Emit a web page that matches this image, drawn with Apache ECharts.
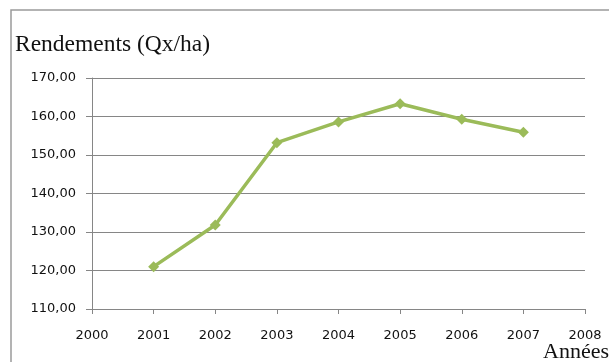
<!DOCTYPE html>
<html>
<head>
<meta charset="utf-8">
<script src="https://cdn.jsdelivr.net/npm/echarts@6/dist/echarts.min.js"></script>
<style>html,body{margin:0;padding:0;background:#fff;}#c{width:609px;height:362px;}</style>
</head>
<body>
<div id="c"></div>
<script>
const years = [2001, 2002, 2003, 2004, 2005, 2006, 2007];
const yields = [121.0, 131.8, 153.2, 158.6, 163.3, 159.3, 155.9];
const yTitle = 'Rendements (Qx/ha)';
const xTitle = 'Années';

const chart = echarts.init(document.getElementById('c'), null, {renderer: 'canvas'});
const labelFont = {fontFamily: 'DejaVu Sans', fontSize: 13, color: '#111'};
chart.setOption({
  animation: false,
  backgroundColor: '#fff',
  grid: {left: 92, right: 24, top: 78, bottom: 53, containLabel: false},
  xAxis: {
    type: 'value', min: 2000, max: 2008, interval: 1,
    axisLine: {show: true, lineStyle: {color: '#868686', width: 1}},
    axisTick: {show: true, length: 5, lineStyle: {color: '#868686'}},
    axisLabel: Object.assign({margin: 20, formatter: v => String(v)}, labelFont),
    splitLine: {show: false}
  },
  yAxis: {
    type: 'value', min: 110, max: 170, interval: 10,
    axisLine: {show: true, lineStyle: {color: '#868686', width: 1}},
    axisTick: {show: true, length: 6, lineStyle: {color: '#868686'}},
    axisLabel: Object.assign({margin: 16, formatter: v => v.toFixed(2).replace('.', ',')}, labelFont),
    splitLine: {show: true, lineStyle: {color: '#868686', width: 1}}
  },
  series: [{
    type: 'line',
    data: years.map((y, i) => [y, yields[i]]),
    symbol: 'diamond', symbolSize: 11,
    lineStyle: {color: '#9bbb59', width: 3.5},
    itemStyle: {color: '#9bbb59'}
  }],
  graphic: [
    {type: 'rect', shape: {x: 11, y: 10, width: 700, height: 400}, style: {fill: 'none', stroke: '#9a9a9a', lineWidth: 1.5}, z: -1},
    {type: 'text', style: {x: 15, y: 44.5, text: yTitle, font: '23.5px "Liberation Serif"', fill: '#111', verticalAlign: 'middle'}},
    {type: 'text', style: {x: 543, y: 352.5, text: xTitle, font: '22px "Liberation Serif"', fill: '#111', verticalAlign: 'middle'}}
  ]
});
</script>
</body>
</html>
